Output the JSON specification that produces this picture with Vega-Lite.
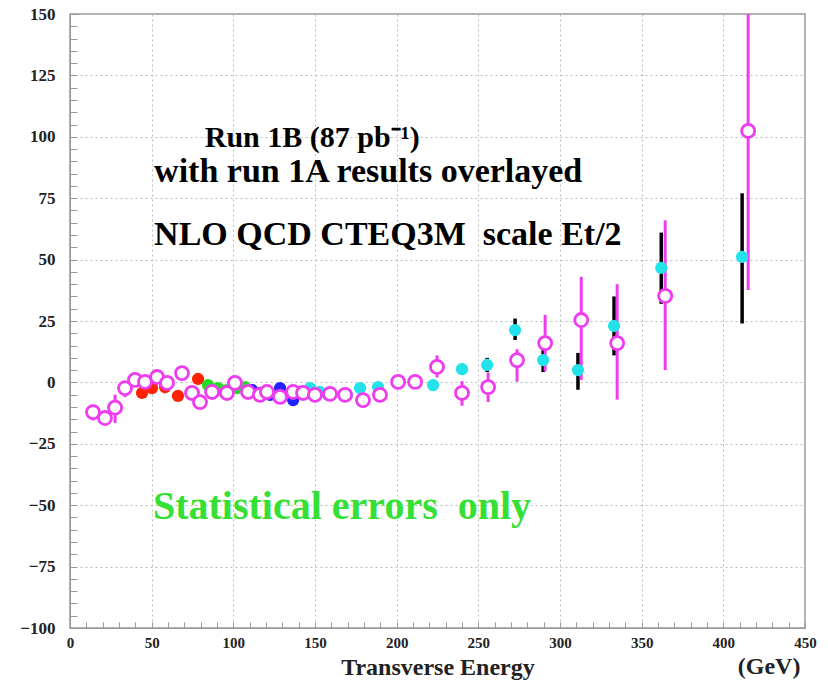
{
  "$schema": "https://vega.github.io/schema/vega-lite/v6.json",
  "width": 735,
  "height": 614,
  "autosize": {"type": "none"},
  "padding": {"left": 70, "top": 14, "right": 23, "bottom": 52},
  "background": "white",
  "config": {
    "view": {"stroke": "#999999", "strokeWidth": 1.5},
    "font": "Liberation Serif"
  },
  "datasets": {
    "run1b": [
      {"et": 14.1, "v": -12.1, "lo": -15.5, "hi": -9},
      {"et": 21.4, "v": -14.5, "lo": -17.5, "hi": -11.5},
      {"et": 27.6, "v": -10.3, "lo": -16.5, "hi": -5},
      {"et": 33.7, "v": -2.3, "lo": -6, "hi": 0.5},
      {"et": 39.8, "v": 1.0, "lo": -1.5, "hi": 3},
      {"et": 45.9, "v": 0.2, "lo": -2, "hi": 2.5},
      {"et": 53.3, "v": 2.2, "lo": 0, "hi": 4.5},
      {"et": 59.4, "v": -0.2, "lo": -2.5, "hi": 2},
      {"et": 68.6, "v": 3.8, "lo": 1.5, "hi": 6},
      {"et": 74.7, "v": -4.3, "lo": -6.5, "hi": -2},
      {"et": 79.6, "v": -8.0, "lo": -10.5, "hi": -5.5},
      {"et": 87.0, "v": -3.9, "lo": -6, "hi": -1.8},
      {"et": 96.1, "v": -4.3, "lo": -6.4, "hi": -2.2},
      {"et": 101.0, "v": -0.2, "lo": -2.3, "hi": 1.9},
      {"et": 109.0, "v": -3.9, "lo": -6, "hi": -1.8},
      {"et": 116.3, "v": -5.1, "lo": -7.2, "hi": -3},
      {"et": 120.6, "v": -3.9, "lo": -6, "hi": -1.8},
      {"et": 128.6, "v": -5.9, "lo": -8, "hi": -3.8},
      {"et": 136.6, "v": -3.9, "lo": -6, "hi": -1.8},
      {"et": 142.7, "v": -4.3, "lo": -6.4, "hi": -2.2},
      {"et": 150.0, "v": -5.1, "lo": -7.2, "hi": -3},
      {"et": 159.2, "v": -4.7, "lo": -6.8, "hi": -2.6},
      {"et": 168.4, "v": -5.1, "lo": -7.2, "hi": -3},
      {"et": 179.4, "v": -7.2, "lo": -9.5, "hi": -4.9},
      {"et": 189.8, "v": -5.1, "lo": -7.5, "hi": -2.7},
      {"et": 200.9, "v": 0.2, "lo": -2.5, "hi": 2.9},
      {"et": 211.3, "v": 0.2, "lo": -2.7, "hi": 3.1},
      {"et": 224.7, "v": 6.3, "lo": 2, "hi": 11},
      {"et": 240.0, "v": -4.3, "lo": -9.5, "hi": 0.5},
      {"et": 256.0, "v": -1.9, "lo": -8, "hi": 4},
      {"et": 273.7, "v": 9.1, "lo": 0.3, "hi": 13.5},
      {"et": 290.9, "v": 16.0, "lo": 4.5, "hi": 27.5},
      {"et": 313.0, "v": 25.4, "lo": 1, "hi": 43},
      {"et": 335.0, "v": 16.0, "lo": -7, "hi": 40},
      {"et": 364.4, "v": 35.2, "lo": 5, "hi": 66},
      {"et": 415.2, "v": 102.4, "lo": 37.6, "hi": 167}
    ],
    "run1a": [
      {"et": 44.1, "v": -4.3, "lo": -5.8, "hi": -2.8, "part": "low"},
      {"et": 50.2, "v": -2.3, "lo": -3.8, "hi": -0.8, "part": "low"},
      {"et": 58.2, "v": -1.9, "lo": -3.4, "hi": -0.4, "part": "low"},
      {"et": 66.1, "v": -5.5, "lo": -7, "hi": -4, "part": "low"},
      {"et": 78.4, "v": 1.4, "lo": -0.1, "hi": 2.9, "part": "low"},
      {"et": 84.5, "v": -1.1, "lo": -2.6, "hi": 0.4, "part": "mid"},
      {"et": 90.6, "v": -2.3, "lo": -3.8, "hi": -0.8, "part": "mid"},
      {"et": 96.1, "v": -3.1, "lo": -4.6, "hi": -1.6, "part": "mid"},
      {"et": 102.3, "v": -2.3, "lo": -3.8, "hi": -0.8, "part": "mid"},
      {"et": 107.2, "v": -1.9, "lo": -3.4, "hi": -0.4, "part": "mid"},
      {"et": 111.5, "v": -3.1, "lo": -4.6, "hi": -1.6, "part": "high"},
      {"et": 116.3, "v": -4.3, "lo": -5.8, "hi": -2.8, "part": "high"},
      {"et": 122.5, "v": -5.1, "lo": -6.6, "hi": -3.6, "part": "high"},
      {"et": 128.6, "v": -2.3, "lo": -3.8, "hi": -0.8, "part": "high"},
      {"et": 136.6, "v": -7.2, "lo": -9, "hi": -5.4, "part": "high"},
      {"et": 140.8, "v": -3.9, "lo": -5.4, "hi": -2.4, "part": "high"},
      {"et": 147.0, "v": -2.3, "lo": -3.8, "hi": -0.8, "part": "top"},
      {"et": 153.0, "v": -3.9, "lo": -5.4, "hi": -2.4, "part": "top"},
      {"et": 158.0, "v": -5.1, "lo": -6.6, "hi": -3.6, "part": "top"},
      {"et": 169.6, "v": -5.1, "lo": -6.6, "hi": -3.6, "part": "top"},
      {"et": 177.6, "v": -2.3, "lo": -3.8, "hi": -0.8, "part": "top"},
      {"et": 188.6, "v": -1.9, "lo": -3.6, "hi": -0.2, "part": "top"},
      {"et": 200.9, "v": 0.2, "lo": -1.6, "hi": 2, "part": "top"},
      {"et": 222.3, "v": -1.1, "lo": -3, "hi": 0.8, "part": "top"},
      {"et": 240.0, "v": 5.4, "lo": 3.2, "hi": 7.6, "part": "top"},
      {"et": 255.4, "v": 7.1, "lo": 4.2, "hi": 10, "part": "top"},
      {"et": 272.5, "v": 21.3, "lo": 17.3, "hi": 26, "part": "top"},
      {"et": 289.7, "v": 9.1, "lo": 4.2, "hi": 13.2, "part": "top"},
      {"et": 311.0, "v": 5.0, "lo": -3, "hi": 12, "part": "top"},
      {"et": 333.1, "v": 23.0, "lo": 11, "hi": 35, "part": "top"},
      {"et": 362.0, "v": 46.6, "lo": 32, "hi": 61, "part": "top"},
      {"et": 411.5, "v": 51.1, "lo": 24, "hi": 77, "part": "top"}
    ],
    "head": [
      {"et": 82.5, "v": 96, "label": "Run 1B (87 pb⁻¹)"}
    ],
    "notes": [
      {"et": 51.5, "v": 81.7, "label": "with run 1A results overlayed"},
      {"et": 51.5, "v": 55.9, "label": "NLO QCD CTEQ3M \u00a0scale Et/2"}
    ],
    "green": [
      {"et": 50.8, "v": -55.8, "label": "Statistical errors \u00a0only"}
    ],
    "unit": [
      {"et": 428, "v": -118.7, "label": "(GeV)"}
    ]
  },
  "encoding": {
    "x": {
      "field": "et",
      "type": "quantitative",
      "scale": {"domain": [0, 450], "nice": false, "zero": false},
      "axis": {
        "title": "Transverse Energy",
        "titleFont": "Liberation Serif",
        "titleFontWeight": "bold",
        "titleFontSize": 24,
        "titleColor": "#222222",
        "titleBaseline": "alphabetic",
        "titleY": 46,
        "values": [0,10,20,30,40,50,60,70,80,90,100,110,120,130,140,150,160,170,180,190,200,210,220,230,240,250,260,270,280,290,300,310,320,330,340,350,360,370,380,390,400,410,420,430,440,450],
        "labelExpr": "datum.value % 50 === 0 ? datum.label : ''",
        "labelFont": "Liberation Serif",
        "labelFontWeight": "bold",
        "labelFontSize": 15,
        "labelColor": "#222222",
        "labelPadding": 13,
        "labelFlush": false,
        "labelOverlap": false,
        "domainColor": "#999999",
        "tickColor": "#999999",
        "tickSize": -6,
        "grid": true,
        "gridColor": "#bbbbbb",
        "gridDash": [2, 3],
        "gridOpacity": {"condition": {"test": "datum.value % 50 === 0", "value": 1}, "value": 0}
      }
    },
    "y": {
      "field": "v",
      "type": "quantitative",
      "scale": {"domain": [-100, 150], "nice": false, "zero": false},
      "axis": {
        "title": null,
        "values": [-100,-95,-90,-85,-80,-75,-70,-65,-60,-55,-50,-45,-40,-35,-30,-25,-20,-15,-10,-5,0,5,10,15,20,25,30,35,40,45,50,55,60,65,70,75,80,85,90,95,100,105,110,115,120,125,130,135,140,145,150],
        "labelExpr": "datum.value % 25 === 0 ? datum.label : ''",
        "labelFont": "Liberation Serif",
        "labelFontWeight": "bold",
        "labelFontSize": 17,
        "labelColor": "#222222",
        "labelPadding": 22,
        "labelFlush": false,
        "labelOverlap": false,
        "domainColor": "#999999",
        "tickColor": "#999999",
        "tickSize": -7,
        "grid": true,
        "gridColor": "#bbbbbb",
        "gridDash": [2, 3],
        "gridOpacity": {"condition": {"test": "datum.value % 25 === 0", "value": 1}, "value": 0}
      }
    }
  },
  "layer": [
    {
      "mark": {"type": "rule", "color": "black", "strokeWidth": 3},
      "encoding": {"y": {"datum": 0}, "x": {"datum": 0}, "x2": {"datum": 450}}
    },
    {
      "data": {"name": "run1a"},
      "mark": {"type": "rule", "color": "black", "strokeWidth": 3.5, "clip": true},
      "encoding": {"y": {"field": "lo", "type": "quantitative"}, "y2": {"field": "hi"}}
    },
    {
      "data": {"name": "run1b"},
      "mark": {"type": "rule", "color": "#ee3cee", "strokeWidth": 3, "clip": true},
      "encoding": {"y": {"field": "lo", "type": "quantitative"}, "y2": {"field": "hi"}}
    },
    {
      "data": {"name": "run1a"},
      "mark": {"type": "circle", "size": 150, "opacity": 1},
      "encoding": {
        "color": {
          "field": "part",
          "type": "nominal",
          "scale": {"domain": ["low", "mid", "high", "top"], "range": ["#ff2200", "#22dd22", "#2222ff", "#22e2ea"]},
          "legend": null
        }
      }
    },
    {
      "data": {"name": "run1b"},
      "mark": {"type": "point", "shape": "circle", "size": 170, "filled": true, "fill": "white", "stroke": "#ee3cee", "strokeWidth": 2.8, "opacity": 1}
    },
    {
      "data": {"name": "head"},
      "mark": {"type": "text", "align": "left", "baseline": "alphabetic", "font": "Liberation Serif", "fontWeight": "bold", "fontSize": 30, "color": "black"},
      "encoding": {"text": {"field": "label"}}
    },
    {
      "data": {"name": "notes"},
      "mark": {"type": "text", "align": "left", "baseline": "alphabetic", "font": "Liberation Serif", "fontWeight": "bold", "fontSize": 34, "color": "black"},
      "encoding": {"text": {"field": "label"}}
    },
    {
      "data": {"name": "green"},
      "mark": {"type": "text", "align": "left", "baseline": "alphabetic", "font": "Liberation Serif", "fontWeight": "bold", "fontSize": 40, "color": "#33e033"},
      "encoding": {"text": {"field": "label"}}
    },
    {
      "data": {"name": "unit"},
      "mark": {"type": "text", "align": "center", "baseline": "alphabetic", "font": "Liberation Serif", "fontWeight": "bold", "fontSize": 24, "color": "#222222"},
      "encoding": {"text": {"field": "label"}}
    }
  ]
}
